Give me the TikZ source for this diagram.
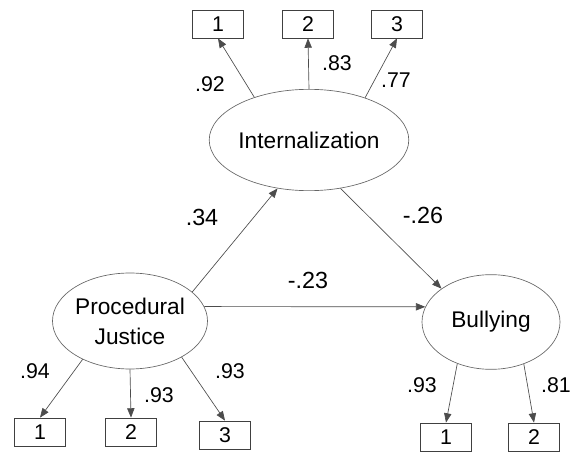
\documentclass[tikz,border=0pt]{standalone}
\usepackage{fontspec}
\setmainfont{Liberation Sans}
\usetikzlibrary{arrows.meta, shapes.geometric}

\begin{document}
\begin{tikzpicture}[x=0.75pt, y=-0.75pt,
        latent/.style={ellipse, draw=black!60, line width=.5pt, inner sep=0pt, font=\fontsize{17}{22.5}\selectfont, align=center},
        item/.style={rectangle, draw=black!75, line width=.6pt, minimum width=38pt, minimum height=21pt, inner sep=0pt, font=\fontsize{16}{18}\selectfont},
        load/.style={font=\fontsize{16}{18}\selectfont},
        coef/.style={font=\fontsize{17.5}{20}\selectfont},
        path/.style={-{Triangle[length=7pt,width=5.5pt]}, draw=black!70, line width=.5pt}]
        \useasboundingbox (0,0) rectangle (574,452);

        % latent variables
        \node[latent, minimum width=111pt, minimum height=76pt] at (309, 140)   (I) {Internalization};
        \node[latent, minimum width=105pt, minimum height=72pt] at (130, 321)   (P) {Procedural\\Justice};
        \node[latent, minimum width=103.5pt, minimum height=71pt] at (491, 322)   (B) {Bullying};

        % indicators
        \node[item] at (218, 24)   (I1) {1};
        \node[item] at (308, 24)   (I2) {2};
        \node[item] at (397, 24)   (I3) {3};
        \node[item] at (40, 432)   (P1) {1};
        \node[item] at (131, 432)   (P2) {2};
        \node[item] at (225, 435)   (P3) {3};
        \node[item] at (446, 437)   (B1) {1};
        \node[item] at (534, 437)   (B2) {2};

        \draw [path] (I.142) -- (I1.south);
        \draw [path] (I.north) -- (I2.south);
        \draw [path] (I.37) -- (I3.south);
        \draw [path] (P.219) -- (P1.north);
        \draw [path] (P.south) -- (P2.north);
        \draw [path] (P.-35) -- (P3.north);
        \draw [path] (B.231) -- (B1.north);
        \draw [path] (B.-52) -- (B2.north);

        \draw [path] (P.25) -- (I.237);
        \draw [path] (P.11.8) -- (B.167.1);
        \draw [path] (I.-57) -- (B.146);

        % loadings
        \node[load] at (210, 84)   (lI1) {.92};
        \node[load] at (337, 63)   (lI2) {.83};
        \node[load] at (396, 80)   (lI3) {.77};
        \node[load] at (35, 371)   (lP1) {.94};
        \node[load] at (159, 395)   (lP2) {.93};
        \node[load] at (230, 371)   (lP3) {.93};
        \node[load] at (422, 385)   (lB1) {.93};
        \node[load] at (556, 385)   (lB2) {.81};

        % structural paths
        \node[coef] at (202, 217)   (cPI) {.34};
        \node[coef] at (308, 280)   (cPB) {-.23};
        \node[coef] at (423, 215)   (cIB) {-.26};
    \end{tikzpicture}
\end{document}
